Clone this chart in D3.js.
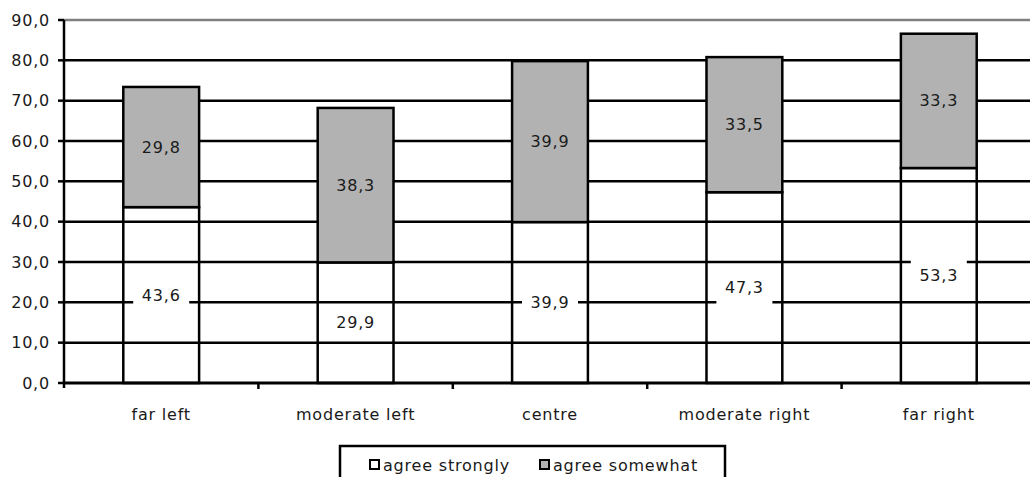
<!DOCTYPE html>
<html>
<head>
<meta charset="utf-8">
<script src="https://cdn.jsdelivr.net/npm/d3@7"></script>
<style>
    body { margin: 0; background: #fff; }
    svg { display: block; font-family: "DejaVu Sans", sans-serif; }
    text { fill: #1a1a1a; }
</style>
</head>
<body>
<svg id="chart" width="1030" height="477"></svg>
<script>
const categories = ["far left", "moderate left", "centre", "moderate right", "far right"]
const agreeStrongly = [43.6, 29.9, 39.9, 47.3, 53.3]
const agreeSomewhat = [29.8, 38.3, 39.9, 33.5, 33.3]
const seriesNames = ["agree strongly", "agree somewhat"]
const seriesColors = ["none", "#b2b2b2"]
const yTicks = [0, 10, 20, 30, 40, 50, 60, 70, 80, 90]

const FONT_PX = 16
const SPACING = 0.8

const svg = d3.select("#chart")
const plot = {left: 64, right: 1036, top: 20, bottom: 383}

const x = d3.scaleBand()
    .domain(categories)
    .range([plot.left, plot.right])
    .paddingInner(0.61)
    .paddingOuter(0.305)

const xOuter = d3.scaleBand().domain(categories).range([plot.left, plot.right])

const y = d3.scaleLinear().domain([0, 90]).range([plot.bottom, plot.top])

const fmt = v => d3.format(".1f")(v).replace(".", ",")

// gridlines
svg.append("g")
    .selectAll("line")
    .data(yTicks.filter(t => t > 0 && t < 90))
    .enter()
    .append("line")
    .attr("x1", plot.left).attr("x2", plot.right)
    .attr("y1", d => y(d)).attr("y2", d => y(d))
    .attr("stroke", "#000").attr("stroke-width", 2.5)

// plot border top
svg.append("line")
    .attr("x1", plot.left).attr("x2", plot.right)
    .attr("y1", y(90)).attr("y2", y(90))
    .attr("stroke", "#808080").attr("stroke-width", 2.5)

const stacked = categories.map((c, i) => [
    {cat: c, y0: 0, y1: agreeStrongly[i], v: agreeStrongly[i], s: 0},
    {cat: c, y0: agreeStrongly[i], y1: agreeStrongly[i] + agreeSomewhat[i], v: agreeSomewhat[i], s: 1}
]).flat()

// bars
svg.append("g")
    .selectAll("rect")
    .data(stacked)
    .enter()
    .append("rect")
    .attr("x", d => x(d.cat))
    .attr("width", x.bandwidth())
    .attr("y", d => y(d.y1))
    .attr("height", d => y(d.y0) - y(d.y1))
    .attr("fill", d => seriesColors[d.s])
    .attr("stroke", "#000")
    .attr("stroke-width", 2.5)

// value labels
const labels = svg.append("g")
    .selectAll("g")
    .data(stacked)
    .enter()
    .append("g")
    .attr("transform", d => `translate(${x(d.cat) + x.bandwidth() / 2},${y((d.y0 + d.y1) / 2)})`)

labels.filter(d => d.s === 0)
    .append("rect")
    .attr("x", -28).attr("y", -17)
    .attr("width", 56).attr("height", 34)
    .attr("fill", "#fff")

labels.append("text")
    .attr("text-anchor", "middle")
    .attr("dy", "0.35em")
    .attr("font-size", FONT_PX)
    .attr("letter-spacing", SPACING)
    .text(d => fmt(d.v))

// y axis
const yAxis = svg.append("g")
yAxis.append("line")
    .attr("x1", plot.left).attr("x2", plot.left)
    .attr("y1", plot.top).attr("y2", plot.bottom + 5)
    .attr("stroke", "#000").attr("stroke-width", 2.5)
yAxis.selectAll(".tick")
    .data(yTicks)
    .enter()
    .append("line")
    .attr("x1", plot.left - 6).attr("x2", plot.left)
    .attr("y1", d => y(d)).attr("y2", d => y(d))
    .attr("stroke", "#000").attr("stroke-width", 2.5)
yAxis.selectAll("text")
    .data(yTicks)
    .enter()
    .append("text")
    .attr("x", 50)
    .attr("y", d => y(d))
    .attr("dy", "0.35em")
    .attr("text-anchor", "end")
    .attr("font-size", FONT_PX)
    .attr("letter-spacing", SPACING)
    .text(d => fmt(d))

// x axis
const xAxis = svg.append("g")
xAxis.append("line")
    .attr("x1", plot.left).attr("x2", plot.right)
    .attr("y1", plot.bottom).attr("y2", plot.bottom)
    .attr("stroke", "#000").attr("stroke-width", 3)
xAxis.selectAll(".tick")
    .data(categories.slice(1))
    .enter()
    .append("line")
    .attr("x1", d => xOuter(d)).attr("x2", d => xOuter(d))
    .attr("y1", plot.bottom).attr("y2", plot.bottom + 6)
    .attr("stroke", "#000").attr("stroke-width", 2.5)
xAxis.selectAll("text")
    .data(categories)
    .enter()
    .append("text")
    .attr("x", d => x(d) + x.bandwidth() / 2)
    .attr("y", plot.bottom + 31)
    .attr("dy", "0.35em")
    .attr("text-anchor", "middle")
    .attr("font-size", FONT_PX)
    .attr("letter-spacing", SPACING)
    .text(d => d)

// legend
const legend = svg.append("g").attr("transform", "translate(340,446)")
legend.append("rect")
    .attr("width", 385).attr("height", 40)
    .attr("fill", "#fff").attr("stroke", "#000").attr("stroke-width", 2.5)
const items = legend.selectAll("g")
    .data(seriesNames)
    .enter()
    .append("g")
    .attr("transform", (d, i) => `translate(${i === 0 ? 30 : 200},0)`)
items.append("rect")
    .attr("x", 0).attr("y", 14)
    .attr("width", 9).attr("height", 9)
    .attr("fill", (d, i) => i === 0 ? "#fff" : seriesColors[1])
    .attr("stroke", "#000").attr("stroke-width", 2)
items.append("text")
    .attr("x", 13).attr("y", 19)
    .attr("dy", "0.35em")
    .attr("font-size", FONT_PX)
    .attr("letter-spacing", SPACING)
    .text(d => d)
</script>
</body>
</html>
